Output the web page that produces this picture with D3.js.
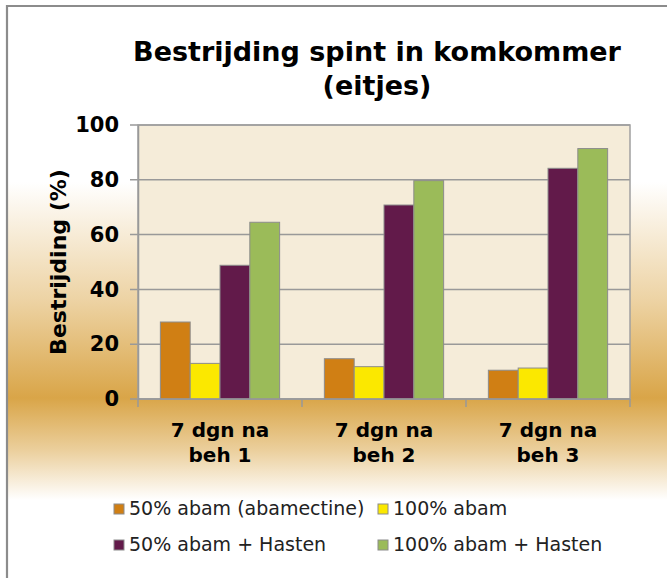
<!DOCTYPE html>
<html>
<head>
<meta charset="utf-8">
<script src="https://cdn.jsdelivr.net/npm/d3@7"></script>
<style>
  body { margin: 0; background: #fff; }
  svg { display: block; }
</style>
</head>
<body>
<svg id="chart" width="667" height="578"></svg>
<script>
// data
const categories = ["7 dgn na beh 1", "7 dgn na beh 2", "7 dgn na beh 3"]
const catLines = [["7 dgn na", "beh 1"], ["7 dgn na", "beh 2"], ["7 dgn na", "beh 3"]]
const seriesNames = ["50% abam (abamectine)", "100% abam", "50% abam + Hasten", "100% abam + Hasten"]
const abam50 = [28.1, 14.7, 10.5]
const abam100 = [13.0, 11.8, 11.3]
const abam50Hasten = [48.8, 70.8, 84.2]
const abam100Hasten = [64.5, 79.7, 91.4]
const yTicks = [0, 20, 40, 60, 80, 100]

const colors = ["#d07f14", "#fbe800", "#621a4a", "#9bbb59"]
const allSeries = [abam50, abam100, abam50Hasten, abam100Hasten]

let svg = d3.select("#chart")
let width = 667, height = 578
let margin = {top: 125, left: 138, right: 37, bottom: 179}
let plotW = width - margin.left - margin.right
let plotH = height - margin.top - margin.bottom
let font = "'DejaVu Sans', Verdana, sans-serif"

// background gradient like the excel "gold" fill
let defs = svg.append("defs")
let grad = defs.append("linearGradient")
    .attr("id", "bg")
    .attr("gradientUnits", "userSpaceOnUse")
    .attr("x1", 0).attr("y1", 0).attr("x2", 0).attr("y2", height)
grad.append("stop").attr("offset", 0).attr("stop-color", "#ffffff")
grad.append("stop").attr("offset", 182 / height).attr("stop-color", "#ffffff")
grad.append("stop").attr("offset", 300 / height).attr("stop-color", "#edd3a4")
grad.append("stop").attr("offset", 398 / height).attr("stop-color", "#d9a548")
grad.append("stop").attr("offset", 450 / height).attr("stop-color", "#ebcf9c")
grad.append("stop").attr("offset", 500 / height).attr("stop-color", "#ffffff")
grad.append("stop").attr("offset", 1).attr("stop-color", "#ffffff")

svg.append("rect")
    .attr("x", 7).attr("y", 6)
    .attr("width", width).attr("height", height)
    .attr("fill", "url(#bg)")

// frame (only left and top edges are visible)
svg.append("path")
    .attr("d", `M7,${height} V6 H${width}`)
    .attr("fill", "none")
    .attr("stroke", "#8c8c8c")
    .attr("stroke-width", 2.2)

// title
let title = svg.append("text")
    .attr("text-anchor", "middle")
    .style("font-family", font)
    .style("font-weight", "bold")
    .style("font-size", "27px")
    .attr("fill", "#000")
title.append("tspan").attr("x", 377).attr("y", 61).text("Bestrijding spint in komkommer")
title.append("tspan").attr("x", 377).attr("y", 95).text("(eitjes)")

let g = svg.append("g").attr("transform", `translate(${margin.left},${margin.top})`)

let x0 = d3.scaleBand()
    .domain(categories)
    .range([0, plotW])
    .paddingInner(0)

// excel gap width 150% -> 4 bars + 1.5 bar of space per category
let barW = x0.bandwidth() / 5.5
let x1 = d3.scaleBand()
    .domain(d3.range(seriesNames.length))
    .range([barW * 0.75, x0.bandwidth() - barW * 0.75])

let y = d3.scaleLinear()
    .domain([0, 100])
    .range([plotH, 0])

g.append("rect")
    .attr("width", plotW)
    .attr("height", plotH)
    .attr("fill", "#f5ecd9")

// gridlines
g.append("g")
    .selectAll("line")
    .data(yTicks)
    .join("line")
    .attr("x1", -8)
    .attr("x2", plotW)
    .attr("y1", d => y(d))
    .attr("y2", d => y(d))
    .attr("stroke", "#999")
    .attr("stroke-width", 1.5)

// plot border
g.append("rect")
    .attr("width", plotW)
    .attr("height", plotH)
    .attr("fill", "none")
    .attr("stroke", "#a0a0a0")
    .attr("stroke-width", 1.5)

// bars
let groups = g.append("g")
    .selectAll("g")
    .data(categories)
    .join("g")
    .attr("transform", d => `translate(${x0(d)},0)`)

groups.selectAll("rect")
    .data((d, i) => allSeries.map((s, j) => ({series: j, value: s[i]})))
    .join("rect")
    .attr("x", d => x1(d.series))
    .attr("width", x1.bandwidth())
    .attr("y", d => y(d.value))
    .attr("height", d => plotH - y(d.value))
    .attr("fill", d => colors[d.series])
    .attr("stroke", "#8c8c8c")
    .attr("stroke-width", 1)

// y axis
let yAxis = g.append("g")
    .call(d3.axisLeft(y).tickValues(yTicks).tickSize(0).tickPadding(19))
yAxis.select(".domain").attr("stroke", "#999").attr("stroke-width", 1.5)
yAxis.selectAll("text")
    .style("font-family", font)
    .style("font-weight", "bold")
    .style("font-size", "21px")
    .attr("fill", "#000")

// x axis ticks at category edges
let xAxis = g.append("g").attr("transform", `translate(0,${plotH})`)
xAxis.append("line")
    .attr("x1", 0).attr("x2", plotW)
    .attr("stroke", "#999").attr("stroke-width", 1.5)
xAxis.selectAll(".edge")
    .data(categories.map(c => x0(c)).concat([plotW]))
    .join("line")
    .attr("class", "edge")
    .attr("x1", d => d).attr("x2", d => d)
    .attr("y1", 0).attr("y2", 8)
    .attr("stroke", "#999").attr("stroke-width", 1.5)

xAxis.selectAll(".lab")
    .data(categories)
    .join("text")
    .attr("class", "lab")
    .attr("text-anchor", "middle")
    .style("font-family", font)
    .style("font-weight", "bold")
    .style("font-size", "20px")
    .attr("fill", "#000")
    .each(function (d, i) {
        let t = d3.select(this)
        catLines[i].forEach((line, k) => {
            t.append("tspan")
                .attr("x", x0(d) + x0.bandwidth() / 2)
                .attr("y", 38 + k * 25)
                .text(line)
        })
    })

// y axis title
svg.append("text")
    .attr("transform", "translate(66,262) rotate(-90)")
    .attr("text-anchor", "middle")
    .style("font-family", font)
    .style("font-weight", "bold")
    .style("font-size", "22px")
    .attr("fill", "#000")
    .text("Bestrijding (%)")

// legend
let legendPos = [[114, 509], [378, 509], [114, 545], [378, 545]]
let legend = svg.append("g")
    .selectAll("g")
    .data(seriesNames)
    .join("g")
    .attr("transform", (d, i) => `translate(${legendPos[i][0]},${legendPos[i][1]})`)

legend.append("rect")
    .attr("x", 0).attr("y", -5)
    .attr("width", 10).attr("height", 10)
    .attr("fill", (d, i) => colors[i])
    .attr("stroke", "#8c8c8c")
    .attr("stroke-width", 1)

legend.append("text")
    .attr("x", 15)
    .attr("y", 6)
    .style("font-family", font)
    .style("font-size", "19px")
    .attr("fill", "#222")
    .text(d => d)
</script>
</body>
</html>
